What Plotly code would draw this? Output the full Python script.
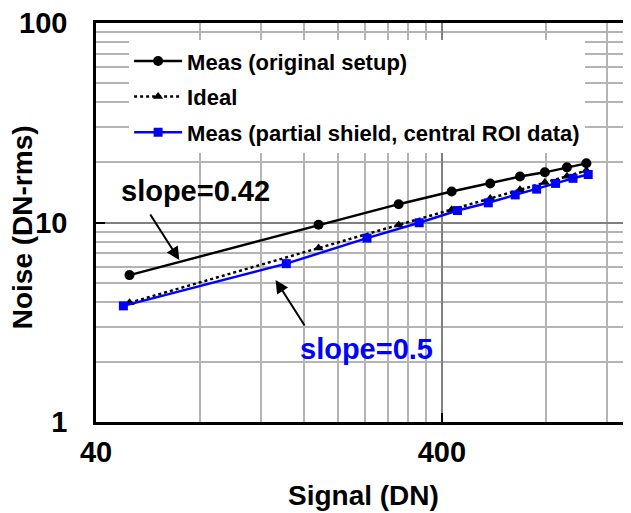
import math
import plotly.graph_objects as go

# ---- data ----
sig_orig = [50, 176, 300, 427, 552, 673, 794, 920, 1047]
noise_orig = [5.45, 9.74, 12.35, 14.3, 15.7, 17.0, 17.85, 18.9, 19.8]

sig_ideal = [50, 176, 300, 427, 552, 673, 794, 920, 1047]
noise_ideal = [3.96, 7.45, 9.72, 11.6, 13.2, 14.6, 15.85, 17.05, 18.2]

sig_shield = [48, 142, 243, 344, 444, 545, 652, 752, 853, 958, 1060]
noise_shield = [3.82, 6.22, 8.35, 9.97, 11.48, 12.55, 13.75, 14.7, 15.7, 16.65, 17.4]

names = ["Meas (original setup)", "Ideal", "Meas (partial shield, central ROI data)"]

x_ticks = [40, 400]
x_ticklabels = ["40", "400"]
x_minor = [80, 120, 160, 200, 240, 280, 320, 360, 800, 1200]
y_ticks = [1, 10, 100]
y_ticklabels = ["1", "10", "100"]
y_minor = [2, 3, 4, 5, 6, 7, 8, 9, 20, 30, 40, 50, 60, 70, 80, 90]

FONT = "Liberation Sans, Arial, sans-serif"

fig = go.Figure()
fig.add_trace(go.Scatter(
    x=sig_orig, y=noise_orig, name=names[0], mode="lines+markers",
    line=dict(color="black", width=2.4),
    marker=dict(symbol="circle", size=10, color="black"),
    legendgroup="a"))
fig.add_trace(go.Scatter(
    x=sig_ideal, y=noise_ideal, name=names[1], mode="lines+markers",
    line=dict(color="black", width=2.5, dash="dot"),
    marker=dict(symbol="triangle-up", size=9, color="black"),
    legendgroup="b"))
fig.add_trace(go.Scatter(
    x=sig_shield, y=noise_shield, name=names[2], mode="lines+markers",
    line=dict(color="#0000ff", width=2.5),
    marker=dict(symbol="square", size=9, color="#0000ff"),
    legendgroup="c"))

axis_common = dict(
    type="log", showline=True, linecolor="black", linewidth=2.5, mirror=True,
    ticks="inside", ticklen=9, tickwidth=2, tickcolor="black",
    showgrid=True, gridcolor="#808080", gridwidth=2,
    tickfont=dict(family=FONT, size=29, color="black", weight="bold"),
    zeroline=False, automargin=False, ticklabeloverflow="allow",
)

fig.update_xaxes(
    **axis_common,
    range=[math.log10(40), math.log10(1400)],
    tickmode="array", tickvals=x_ticks, ticktext=x_ticklabels,
    ticklabelstandoff=2,
    minor=dict(tickmode="array", tickvals=x_minor, showgrid=True,
               gridcolor="#b4b4b4", gridwidth=1.5, ticks=""),
)
fig.update_yaxes(
    **axis_common,
    range=[0, 2],
    tickmode="array", tickvals=y_ticks, ticktext=y_ticklabels,
    ticklabelstandoff=20,
    minor=dict(tickmode="array", tickvals=y_minor, showgrid=True,
               gridcolor="#b4b4b4", gridwidth=1.5, ticks=""),
)

def txt(text, x, y, color="black", angle=0, size=28):
    return dict(text=text, x=x, y=y, xref="paper", yref="paper",
                xanchor="center", yanchor="middle", textangle=angle,
                showarrow=False,
                font=dict(family=FONT, size=size, color=color, weight="bold"))

annos = [
    txt("Noise (DN-rms)", -0.136, 0.489, angle=-90),
    txt("Signal (DN)", 0.5, -0.185),
    txt("slope=0.42", 0.186, 0.579, size=29),
    txt("slope=0.5", 0.5066, 0.1837, color="#0000ff", size=29),
    dict(text="", x=0.156, y=0.406, xref="paper", yref="paper",
         showarrow=True, ax=-30, ay=-47, arrowhead=2, arrowsize=1.3,
         arrowwidth=2, arrowcolor="black"),
    dict(text="", x=0.3363, y=0.356, xref="paper", yref="paper",
         showarrow=True, ax=30, ay=47, arrowhead=2, arrowsize=1.3,
         arrowwidth=2, arrowcolor="black"),
]

# the page body has an 8px margin, so the figure is sized to sit inside it
fig.update_layout(
    width=623, height=505,
    margin=dict(l=88, r=1, t=15, b=91),
    paper_bgcolor="white", plot_bgcolor="white",
    showlegend=True,
    legend=dict(x=0.062, y=0.957, xanchor="left", yanchor="top",
                bgcolor="white", borderwidth=0,
                font=dict(family=FONT, size=22, color="black", weight="bold"),
                tracegroupgap=4, itemwidth=48),
    annotations=annos,
)

fig.write_html("out.html")
